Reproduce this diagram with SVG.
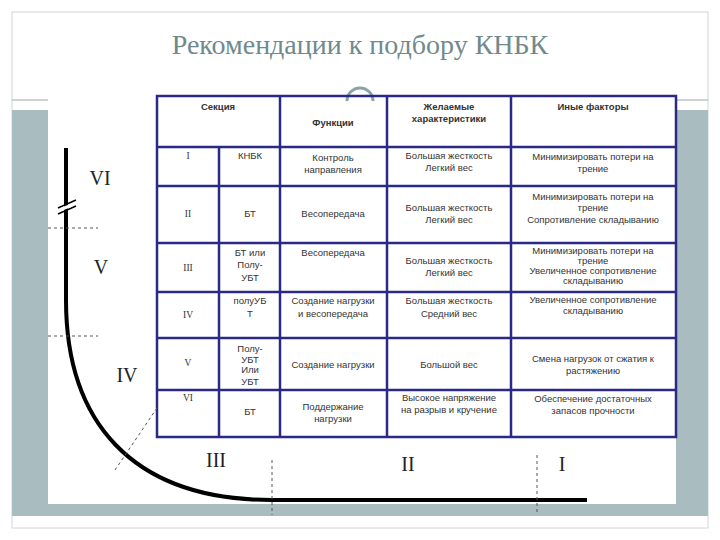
<svg xmlns="http://www.w3.org/2000/svg" width="720" height="540" viewBox="0 0 720 540">
<style>
.t{font-family:"Liberation Sans",Arial,sans-serif;font-size:9.5px;fill:#333;text-anchor:middle}
.s{font-family:"Liberation Serif","Times New Roman",serif}
.b{font-weight:bold}
.r{font-family:"Liberation Serif","Times New Roman",serif;font-size:20px;fill:#222;text-anchor:middle}
.ti{font-family:"Liberation Serif","DejaVu Serif","Times New Roman",serif;font-size:28px;fill:#6f8a8d;text-anchor:middle}
.g{stroke:#2a2a86;stroke-width:2.5;fill:none}
.d{stroke:#555;stroke-width:1;stroke-dasharray:3,3;fill:none}
</style>
<rect width="720" height="540" fill="#fff"/>
<rect x="12" y="12" width="696" height="516" fill="#fff" stroke="#cfd6d8"/>
<rect x="12" y="110" width="696" height="406" fill="#a9bcbf"/>
<line x1="12" y1="100" x2="708" y2="100" stroke="#9aa9ab"/>
<text class="ti" x="360" y="54">Рекомендации к подбору КНБК</text>
<rect x="48" y="96" width="628" height="408" fill="#fff"/>
<path d="M347,101 A13,13 0 0 1 373,101" fill="none" stroke="#8aa3a6" stroke-width="3"/>
<g id="table">
<rect x="157" y="96" width="519" height="341" class="g"/>
<path class="g" d="M280,96V437M387,96V437M511,96V437M219,147V437M157,147H676M157,186H676M157,243H676M157,292H676M157,338H676M157,390H676"/>
<text class="t b" x="218" y="110">Секция</text>
<text class="t b" x="333" y="126">Функции</text>
<text class="t b" x="449" y="110">Желаемые</text>
<text class="t b" x="449" y="122">характеристики</text>
<text class="t b" x="593" y="110">Иные факторы</text>
<text class="t s" x="188" y="159">I</text>
<text class="t s" x="188" y="217">II</text>
<text class="t s" x="188" y="271">III</text>
<text class="t s" x="188" y="318">IV</text>
<text class="t s" x="188" y="366">V</text>
<text class="t s" x="188" y="401">VI</text>
<text class="t" x="250" y="159">КНБК</text>
<text class="t" x="250" y="217">БТ</text>
<text class="t" x="250" y="256">БТ или</text><text class="t" x="250" y="268">Полу-</text><text class="t" x="250" y="281">УБТ</text>
<text class="t" x="250" y="304">полуУБ</text><text class="t" x="250" y="317">Т</text>
<text class="t" x="250" y="352">Полу-</text><text class="t" x="250" y="363">УБТ</text><text class="t" x="250" y="373" font-size="7">Или</text><text class="t" x="250" y="385">УБТ</text>
<text class="t" x="250" y="415">БТ</text>
<text class="t" x="333" y="161">Контроль</text><text class="t" x="333" y="173">направления</text>
<text class="t" x="333" y="217">Весопередача</text>
<text class="t" x="333" y="256">Весопередача</text>
<text class="t" x="333" y="304">Создание нагрузки</text><text class="t" x="333" y="317">и весопередача</text>
<text class="t" x="333" y="368">Создание нагрузки</text>
<text class="t" x="333" y="410">Поддержание</text><text class="t" x="333" y="422">нагрузки</text>
<text class="t" x="449" y="159">Большая жесткость</text><text class="t" x="449" y="171">Легкий вес</text>
<text class="t" x="449" y="211">Большая жесткость</text><text class="t" x="449" y="223">Легкий вес</text>
<text class="t" x="449" y="264">Большая жесткость</text><text class="t" x="449" y="276">Легкий вес</text>
<text class="t" x="449" y="304">Большая жесткость</text><text class="t" x="449" y="317">Средний вес</text>
<text class="t" x="449" y="368">Большой вес</text>
<text class="t" x="449" y="401">Высокое напряжение</text><text class="t" x="449" y="413">на разрыв и кручение</text>
<text class="t" x="593" y="160">Минимизировать потери на</text><text class="t" x="593" y="172">трение</text>
<text class="t" x="593" y="200">Минимизировать потери на</text><text class="t" x="593" y="211">трение</text><text class="t" x="593" y="223">Сопротивление складыванию</text>
<text class="t" x="593" y="254" font-size="8">Минимизировать потери на</text><text class="t" x="593" y="264" font-size="8">трение</text><text class="t" x="593" y="274" font-size="8">Увеличенное сопротивление</text><text class="t" x="593" y="284" font-size="8">складыванию</text>
<text class="t" x="593" y="303">Увеличенное сопротивление</text><text class="t" x="593" y="314">складыванию</text>
<text class="t" x="593" y="362">Смена нагрузок от сжатия к</text><text class="t" x="593" y="374">растяжению</text>
<text class="t" x="593" y="402">Обеспечение достаточных</text><text class="t" x="593" y="414">запасов прочности</text>
</g>
<g id="connectors">
<path d="M66,148V300C66,420 130,500 272,500H587" fill="none" stroke="#000" stroke-width="4"/>
<path d="M58,208L76,200M58,214L76,206" stroke="#000" stroke-width="1.5"/>
<line x1="62" y1="209" x2="72" y2="205" stroke="#fff" stroke-width="3"/>
<path class="d" d="M48,228H98M48,336H98M115,470L157,408"/>
<path class="d" stroke-dasharray="2,2" d="M272,460V515M537,455V515"/>
</g>
<text class="r" x="100" y="185">VI</text>
<text class="r" x="101" y="274">V</text>
<text class="r" x="127" y="382">IV</text>
<text class="r" x="216" y="467">III</text>
<text class="r" x="408" y="471">II</text>
<text class="r" x="562" y="471">I</text>
</svg>
